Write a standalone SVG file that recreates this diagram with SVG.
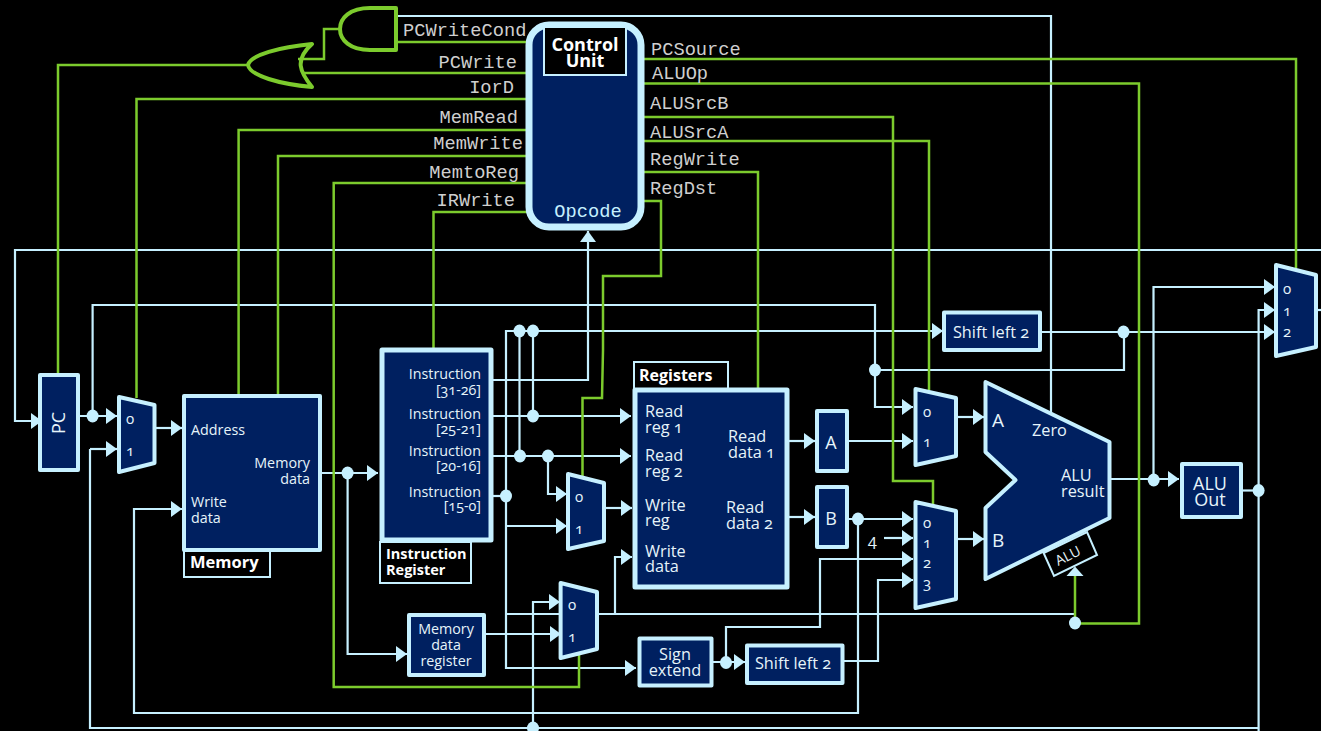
<svg xmlns="http://www.w3.org/2000/svg" width="1321" height="731" viewBox="0 0 1321 731">
<style>
text{font-family:"Open Sans","Liberation Sans",sans-serif;fill:#e6f4fa;font-size:14.300px;font-feature-settings:"onum" 1;}
.m{font-family:"Liberation Mono",monospace;font-size:18.700px;fill:#cfcfcf;}
.b{font-weight:700;fill:#fff;}
.c{text-anchor:middle;}
.e{text-anchor:end;}
.d{font-size:15px;}
.r{font-size:16.300px;}
.n{fill:#002060;stroke:#c6f0ff;stroke-width:4;stroke-linejoin:round;}
.l{fill:#000;stroke:#c6f0ff;stroke-width:2;}
.w{fill:none;stroke:#c6f0ff;stroke-width:2.200;}
.g{fill:none;stroke:#7ccb2d;stroke-width:2.500;}
.gate{fill:none;stroke:#7ccb2d;stroke-width:4;stroke-linejoin:round;}
.j{fill:#c6f0ff;}
</style>
<defs>
<marker id="arr" markerUnits="userSpaceOnUse" markerWidth="12" markerHeight="18" refX="11" refY="8.500" orient="auto"><path d="M0 0.500L11 8.500L0 16.500Z" fill="#c6f0ff"/></marker>
</defs>
<rect width="1321" height="731" fill="#000"/>
<g id="connectors">
<path class="w" d="M1321 250H15V421H42" marker-end="url(#arr)"/>
<path class="w" d="M398 16H1051V412"/>
<path class="w" d="M92.600 416V305H875V407H913" marker-end="url(#arr)"/>
<path class="w" d="M875 370H1124V332"/>
<path class="w" d="M78 416H117" marker-end="url(#arr)"/>
<path class="w" d="M154 428H182" marker-end="url(#arr)"/>
<path class="w" d="M90 449V728H1258"/>
<path class="w" d="M90 449H117" marker-end="url(#arr)"/>
<path class="w" d="M1258.600 490V731"/>
<path class="w" d="M1258.600 490V310H1275" marker-end="url(#arr)"/>
<path class="w" d="M533 728V602H560" marker-end="url(#arr)"/>
<path class="w" d="M1153.500 480V287H1275" marker-end="url(#arr)"/>
<path class="w" d="M1040 332H1275" marker-end="url(#arr)"/>
<path class="w" d="M1316 310H1321"/>
<path class="w" d="M492 380H588V231" marker-end="url(#arr)"/>
<path class="w" d="M492 416H631" marker-end="url(#arr)"/>
<path class="w" d="M492 456H631" marker-end="url(#arr)"/>
<path class="w" d="M492 496H506"/>
<path class="w" d="M506 496V331H943" marker-end="url(#arr)"/>
<path class="w" d="M519.500 331V456"/>
<path class="w" d="M533 331V416"/>
<path class="w" d="M548 456V494H567" marker-end="url(#arr)"/>
<path class="w" d="M506 496V668H636" marker-end="url(#arr)"/>
<path class="w" d="M506 526H567" marker-end="url(#arr)"/>
<path class="w" d="M506 614H1075"/>
<path class="w" d="M615 614V557H632" marker-end="url(#arr)"/>
<path class="w" d="M604 508H632" marker-end="url(#arr)"/>
<path class="w" d="M320 473H378" marker-end="url(#arr)"/>
<path class="w" d="M347.600 473V654H407" marker-end="url(#arr)"/>
<path class="w" d="M485 634H561" marker-end="url(#arr)"/>
<path class="w" d="M858 519V713H134V509H182" marker-end="url(#arr)"/>
<path class="w" d="M788 441H815" marker-end="url(#arr)"/>
<path class="w" d="M788 517H815" marker-end="url(#arr)"/>
<path class="w" d="M848 441H913" marker-end="url(#arr)"/>
<path class="w" d="M848 519H913" marker-end="url(#arr)"/>
<path class="w" d="M884 538H913" marker-end="url(#arr)"/>
<path class="w" d="M726 663V627H820V559H913" marker-end="url(#arr)"/>
<path class="w" d="M843 661H878V580H913" marker-end="url(#arr)"/>
<path class="w" d="M956 417H984" marker-end="url(#arr)"/>
<path class="w" d="M956 539H984" marker-end="url(#arr)"/>
<path class="w" d="M1109 479H1179" marker-end="url(#arr)"/>
<path class="w" d="M712 662H745" marker-end="url(#arr)"/>
<path class="w" d="M1242 490.500H1258"/>
<path class="g" d="M340 29H324V59H298"/>
<path class="g" d="M398 42H527"/>
<path class="g" d="M302 73H528"/>
<path class="g" d="M248 65H58V375"/>
<path class="g" d="M527 99H136.500V398"/>
<path class="g" d="M527 130H238.600V396"/>
<path class="g" d="M527 156H278V396"/>
<path class="g" d="M527 183H333.700V687H579V654"/>
<path class="g" d="M527 212H433.500V348"/>
<path class="g" d="M643 59H1296V268"/>
<path class="g" d="M643 83.500H1139V623.500H1075"/>
<path class="g" d="M643 117H893V481H933V505"/>
<path class="g" d="M643 141H929V390"/>
<path class="g" d="M643 172H758V388"/>
<path class="g" d="M643 201H661V276H603V350L602 398H582.500V476"/>
<path class="g" d="M1075 623V575"/>
<path d="M1075 566.500L1083.500 576H1066.500Z" fill="#c6f0ff"/>
</g>
<g id="dots">
<ellipse class="j" cx="92.600" cy="416" rx="6" ry="6.500"/>
<ellipse class="j" cx="347.600" cy="473" rx="6" ry="6.500"/>
<ellipse class="j" cx="519.500" cy="331" rx="6" ry="6.500"/>
<ellipse class="j" cx="533" cy="331" rx="6" ry="6.500"/>
<ellipse class="j" cx="533" cy="416" rx="6" ry="6.500"/>
<ellipse class="j" cx="520" cy="456" rx="6" ry="6.500"/>
<ellipse class="j" cx="548" cy="456" rx="6" ry="6.500"/>
<ellipse class="j" cx="506" cy="496" rx="6" ry="6.500"/>
<ellipse class="j" cx="533" cy="728" rx="6" ry="6.500"/>
<ellipse class="j" cx="726" cy="662.500" rx="6" ry="6.500"/>
<ellipse class="j" cx="858" cy="519" rx="6" ry="6.500"/>
<ellipse class="j" cx="875" cy="370" rx="6" ry="6.500"/>
<ellipse class="j" cx="1075" cy="623" rx="6" ry="6.500"/>
<ellipse class="j" cx="1123.500" cy="332" rx="6" ry="6.500"/>
<ellipse class="j" cx="1153.700" cy="480" rx="6" ry="6.500"/>
<ellipse class="j" cx="1258.600" cy="490.500" rx="6" ry="6.500"/>
</g>
<g id="and-gate"><path class="gate" d="M396 8H370C350 8 340 18 340 29C340 40 350 50 370 50H396Z"/></g>
<g id="or-gate"><path class="gate" d="M312 44C280 47 250 55 248 65C250 76 280 84 312 87C300 72 294 60 312 44Z"/></g>
<g id="control-unit">
<rect x="529" y="25" width="112" height="202" rx="20" fill="#002060" stroke="#c6f0ff" stroke-width="7"/>
<rect class="l" x="544" y="27" width="82" height="48"/>
<text class="b c" x="585" y="51" style="font-size:18px">Control</text>
<text class="b c" x="585" y="67" style="font-size:18px">Unit</text>
<text class="m c" x="588" y="217" style="fill:#c6f0ff">Opcode</text>
</g>
<g id="control-signals">
<text class="m" x="403" y="36">PCWriteCond</text>
<text class="m e" x="517" y="68">PCWrite</text>
<text class="m e" x="514" y="93">IorD</text>
<text class="m e" x="518" y="123">MemRead</text>
<text class="m e" x="523" y="149">MemWrite</text>
<text class="m e" x="519" y="178">MemtoReg</text>
<text class="m e" x="515" y="206">IRWrite</text>
<text class="m" x="651" y="55">PCSource</text>
<text class="m" x="652" y="79">ALUOp</text>
<text class="m" x="650" y="109">ALUSrcB</text>
<text class="m" x="650" y="138">ALUSrcA</text>
<text class="m" x="650" y="165">RegWrite</text>
<text class="m" x="650" y="194">RegDst</text>
</g>
<g id="pc">
<rect class="n" x="40" y="375" width="38" height="95"/>
<text class="c" transform="translate(65,423) rotate(-90)" style="font-size:18px">PC</text>
</g>
<g id="mux-iord">
<path class="n" d="M119 397L154.500 405V463L119 472Z"/>
<text class="d" x="126" y="424">0</text><text class="d" x="126" y="456">1</text>
</g>
<g id="memory">
<rect class="n" x="184" y="396" width="136" height="154"/>
<text x="191" y="435">Address</text>
<text class="e" x="310" y="468">Memory</text><text class="e" x="310" y="484">data</text>
<text x="191" y="507">Write</text><text x="191" y="523">data</text>
<rect class="l" x="184" y="551" width="86" height="26"/>
<text class="b" x="190" y="568" style="font-size:16.500px">Memory</text>
</g>
<g id="instruction-register">
<rect class="n" x="382" y="350" width="109" height="190" style="stroke-width:5"/>
<text class="e" x="481" y="379">Instruction</text><text class="e" x="481" y="395">[31-26]</text>
<text class="e" x="481" y="419">Instruction</text><text class="e" x="481" y="434">[25-21]</text>
<text class="e" x="481" y="456">Instruction</text><text class="e" x="481" y="471">[20-16]</text>
<text class="e" x="481" y="497">Instruction</text><text class="e" x="481" y="511">[15-0]</text>
<rect class="l" x="380" y="542" width="91" height="41"/>
<text class="b" x="386" y="559" style="font-size:14.500px">Instruction</text>
<text class="b" x="386" y="575" style="font-size:14.500px">Register</text>
</g>
<g id="mux-regdst">
<path class="n" d="M568 474L604 483V541L568 549Z"/>
<text class="d" x="575" y="502">0</text><text class="d" x="575" y="534">1</text>
</g>
<g id="mux-memtoreg">
<path class="n" d="M560.600 583L597 592V649L560.600 658Z"/>
<text class="d" x="568" y="610">0</text><text class="d" x="568" y="642">1</text>
</g>
<g id="memory-data-register">
<rect class="n" x="409" y="615" width="75" height="60"/>
<text class="c" x="446" y="634">Memory</text><text class="c" x="446" y="650">data</text><text class="c" x="446" y="666">register</text>
</g>
<g id="registers">
<rect class="l" x="634" y="362" width="94" height="27"/>
<text class="b" x="639" y="381" style="font-size:16px">Registers</text>
<rect class="n" x="635" y="390" width="152" height="197" style="stroke-width:5"/>
<text class="r" x="645" y="417">Read</text><text class="r" x="645" y="433">reg 1</text>
<text class="r" x="645" y="461">Read</text><text class="r" x="645" y="477">reg 2</text>
<text class="r" x="645" y="511">Write</text><text class="r" x="645" y="526">reg</text>
<text class="r" x="645" y="557">Write</text><text class="r" x="645" y="572">data</text>
<text class="r" x="728" y="442">Read</text><text class="r" x="728" y="458">data 1</text>
<text class="r" x="726" y="513">Read</text><text class="r" x="726" y="529">data 2</text>
</g>
<g id="sign-extend">
<rect class="n" x="639.500" y="638.500" width="72" height="47"/>
<text class="c r" x="675" y="660">Sign</text><text class="c r" x="675" y="676">extend</text>
</g>
<g id="shift-left-bottom">
<rect class="n" x="747" y="645.500" width="95.500" height="37.500"/>
<text class="c r" x="793" y="669">Shift left 2</text>
</g>
<g id="shift-left-top">
<rect class="n" x="944" y="312.500" width="96" height="37.500"/>
<text class="c r" x="991" y="338">Shift left 2</text>
</g>
<g id="reg-a">
<rect class="n" x="817" y="411" width="30" height="60"/>
<text class="c" x="831" y="449" style="font-size:18px">A</text>
</g>
<g id="reg-b">
<rect class="n" x="817" y="487" width="30" height="60"/>
<text class="c" x="831" y="525" style="font-size:18px">B</text>
</g>
<g id="mux-alusrca">
<path class="n" d="M915.500 389L956 398V456L915.500 465Z"/>
<text class="d" x="923" y="417">0</text><text class="d" x="923" y="447">1</text>
</g>
<g id="mux-alusrcb">
<path class="n" d="M915.500 502L956 511V599L915.500 608Z"/>
<text class="d" x="923" y="528">0</text><text class="d" x="923" y="548">1</text><text class="d" x="923" y="568">2</text><text class="d" x="923" y="588">3</text>
</g>
<text class="r" x="868" y="546">4</text>
<g id="alu">
<path class="n" d="M985.500 382L1109.500 442V518L985.500 579V508L1015.500 480L985.500 452Z"/>
<text x="992" y="427" style="font-size:19px">A</text>
<text x="992" y="547" style="font-size:19px">B</text>
<text class="r" x="1032" y="436">Zero</text>
<text class="r" x="1061" y="481">ALU</text><text class="r" x="1061" y="497">result</text>
<path class="l" d="M1087 532L1097 555L1054 576L1043.600 553Z"/>
<text class="c" transform="translate(1070,560) rotate(-27)" style="font-size:14px">ALU</text>
</g>
<g id="alu-out">
<rect class="n" x="1182" y="464" width="59" height="53"/>
<text class="c" x="1210" y="490" style="font-size:18px">ALU</text><text class="c" x="1210" y="506" style="font-size:18px">Out</text>
</g>
<g id="mux-pcsource">
<path class="n" d="M1276 265L1316 275V347L1276 356Z"/>
<text class="d" x="1283" y="294">0</text><text class="d" x="1283" y="316">1</text><text class="d" x="1283" y="337">2</text>
</g>
</svg>
